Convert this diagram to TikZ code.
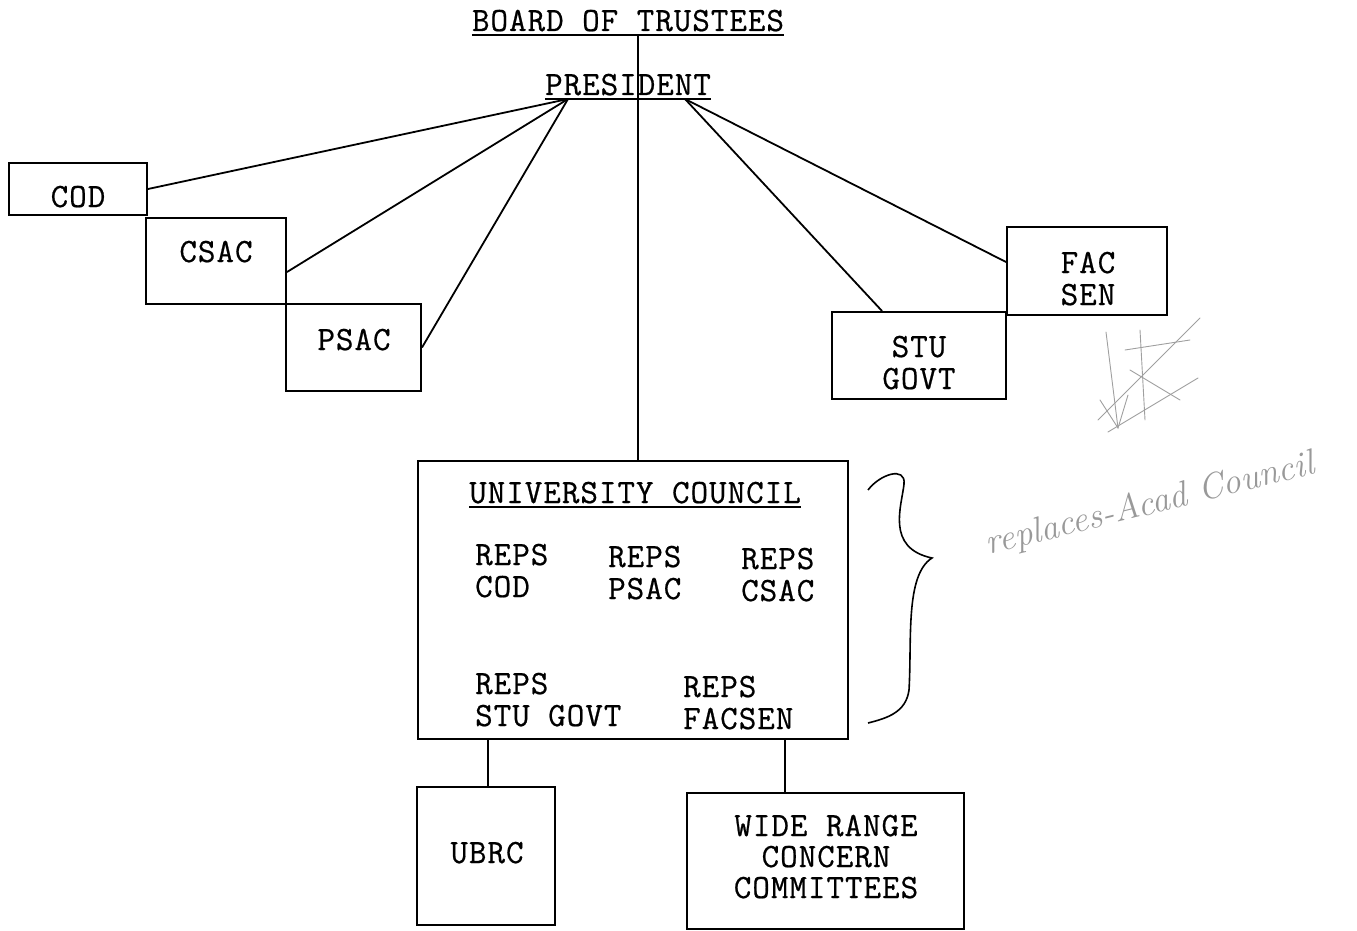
\documentclass[tikz,border=0pt]{standalone}
\usepackage{fontspec}
\setmonofont{Latin Modern Mono}[LetterSpace=3, FakeBold=0.6]
\usetikzlibrary{calc}
\tikzset{
  box/.style={draw, line width=2pt, inner sep=0pt, minimum width=#1},
  lbl/.style={inner sep=0pt, anchor=base, font=\ttfamily\fontsize{34}{35}\selectfont},
  lblw/.style={inner sep=0pt, anchor=base west, font=\ttfamily\fontsize{34}{35}\selectfont},
  conn/.style={line width=1.8pt},
  ul/.style={line width=1.6pt},
  hand/.style={gray!75, line width=0.9pt, line cap=round}
}
\begin{document}
\begin{tikzpicture}[x=1pt,y=-1pt]
\useasboundingbox (0,0) rectangle (1357,931);
% boxes
\node[box=138, minimum height=52] (cod) at (78,189) {};
\node[box=140, minimum height=86] (csac) at (216,261) {};
\node[box=135, minimum height=87] (psac) at (353.5,347.5) {};
\node[box=160, minimum height=88] (facsen) at (1087,271) {};
\node[box=174, minimum height=87] (stugovt) at (919,355.5) {};
\node[box=430, minimum height=278] (uc) at (633,600) {};
\node[box=138, minimum height=138] (ubrc) at (486,856) {};
\node[box=277, minimum height=136] (wrc) at (825.5,861) {};
% titles
\node[lbl] (bot) at (628,31) {BOARD OF TRUSTEES};
\node[lbl] (pres) at (628,95) {PRESIDENT};
\draw[ul] ([yshift=-4pt]bot.base west) -- ([yshift=-4pt]bot.base east);
\draw[ul] ([yshift=-4pt]pres.base west) -- ([yshift=-4pt]pres.base east);
% box texts
\node[lbl] (tcod) at (78,207) {COD};
\node[lbl] (tcsac) at (216,262) {CSAC};
\node[lbl] (tpsac) at (354,350) {PSAC};
\node[lbl] (tfac1) at (1088,273) {FAC};
\node[lbl] (tfac2) at (1088,305) {SEN};
\node[lbl] (tstu1) at (919,357) {STU};
\node[lbl] (tstu2) at (919,389) {GOVT};
\node[lbl] (tuc) at (635,503) {UNIVERSITY COUNCIL};
\draw[ul] ([yshift=-4pt]tuc.base west) -- ([yshift=-4pt]tuc.base east);
\node[lblw] (r1a) at (475,565) {REPS};
\node[lblw] (r1b) at (475,597) {COD};
\node[lblw] (r2a) at (608,567) {REPS};
\node[lblw] (r2b) at (608,599) {PSAC};
\node[lblw] (r3a) at (741,569) {REPS};
\node[lblw] (r3b) at (741,601) {CSAC};
\node[lblw] (r4a) at (475,694) {REPS};
\node[lblw] (r4b) at (475,726) {STU GOVT};
\node[lblw] (r5a) at (683,697) {REPS};
\node[lblw] (r5b) at (683,729) {FACSEN};
\node[lbl] (tubrc) at (487,863) {UBRC};
\node[lbl] (tw1) at (826,836) {WIDE RANGE};
\node[lbl] (tw2) at (826,867) {CONCERN};
\node[lbl] (tw3) at (826,898) {COMMITTEES};
% connectors
\coordinate (bt) at (638,35);
\coordinate (pl) at (568,99);
\coordinate (pr) at (685,99);
\coordinate (w1) at (785,0);
\draw[conn] (bt) -- (bt |- uc.north);
\draw[conn] (cod.east) -- (pl);
\draw[conn] ($(csac.east)+(0,11)$) -- (pl);
\draw[conn] (psac.east) -- (pl);
\draw[conn] (pr) -- ($(facsen.west)+(0,-9)$);
\draw[conn] (pr) -- ($(stugovt.north)+(-37,0)$);
\draw[conn] (ubrc.north -| 488,0) -- (uc.south -| 488,0);
\draw[conn] (uc.south -| w1) -- (wrc.north -| w1);
% brace
\draw[line width=1.6pt] (868,490) .. controls (880,474) and (906,466) .. (904,484)
  .. controls (902,505) and (885,548) .. (932,558)
  .. controls (905,575) and (912,640) .. (909,690)
  .. controls (906,712) and (888,718) .. (868,723);
% handwritten note
\node[gray!80, inner sep=0pt, rotate=14, font=\itshape\fontsize{36}{38}\selectfont] (note) at (1150,505) {replaces-Acad Council};
\draw[hand] (1106,332) -- (1118,428);
\draw[hand] (1100,400) -- (1118,428) -- (1128,395);
\draw[hand] (1098,420) -- (1200,318);
\draw[hand] (1108,432) -- (1198,378);
\draw[hand] (1125,350) -- (1190,340);
\draw[hand] (1130,370) -- (1180,400);
\draw[hand] (1140,330) -- (1145,420);
\end{tikzpicture}
\end{document}
